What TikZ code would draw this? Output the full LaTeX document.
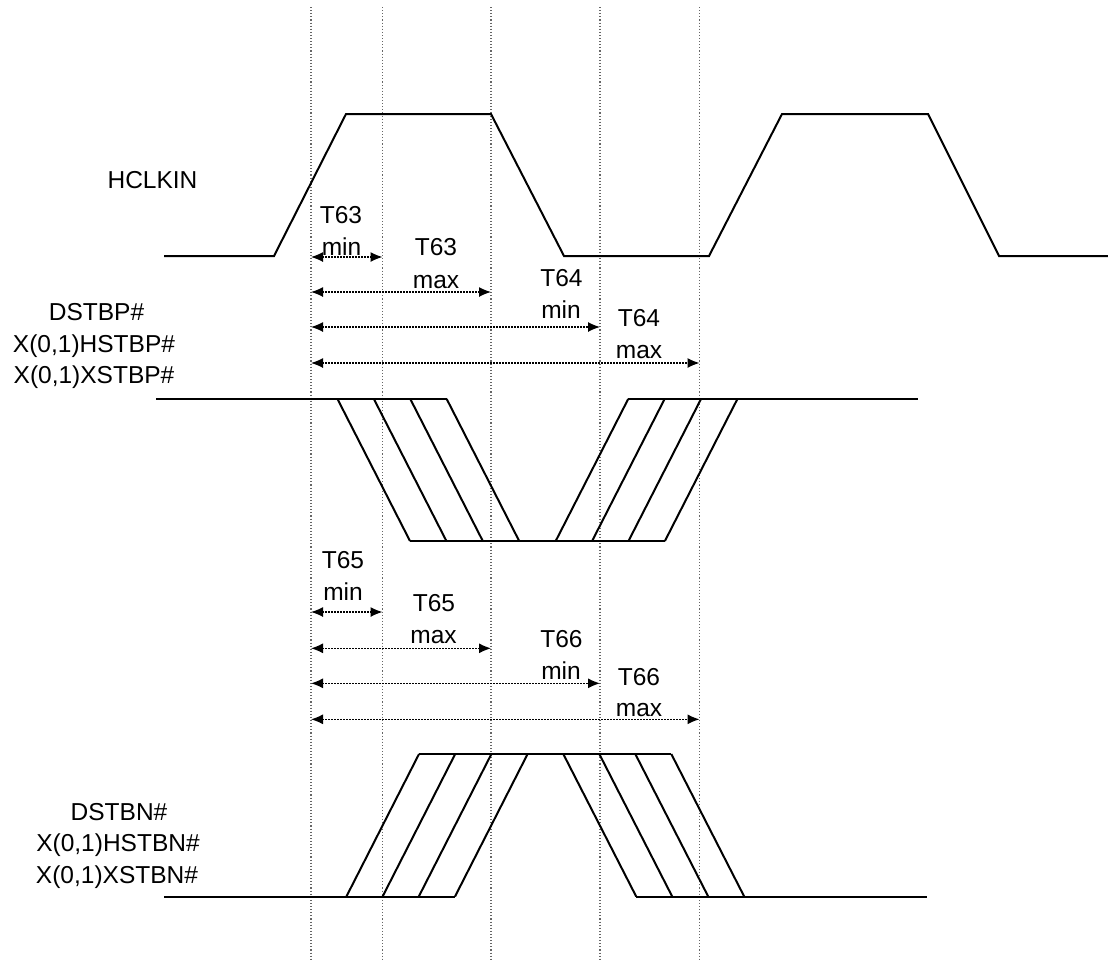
\documentclass[tikz,border=0pt]{standalone}
\usepackage{fontspec}
\setmainfont{Liberation Sans}
\usetikzlibrary{arrows.meta}
\begin{document}
\begin{tikzpicture}[x=0.5pt,y=-0.5pt]

		\tikzstyle{wave} = [line width=1pt, line join=miter]
		
		\tikzstyle{guide} = [black!60, line width=0.55pt, dash pattern=on 0.55pt off 1pt]
		
		\tikzstyle{span} = [{Latex[length=6pt,width=5pt]}-{Latex[length=6pt,width=5pt]}, line width=0.6pt, dash pattern=on 0.6pt off 0.9pt]
		
		\tikzstyle{spantext} = [anchor=base, inner sep=0pt, font=\fontsize{12.25pt}{14pt}\selectfont]
		
		\tikzstyle{signame} = [anchor=base, inner sep=0pt, font=\fontsize{12.25pt}{14pt}\selectfont]
		
		\useasboundingbox (0,0) rectangle (1108,966);
		
		% edge markers
		\foreach \n/\x in {1/311,2/382.5,3/491,4/600,5/699.5}
		{
			\coordinate (top\n) at (\x,7);
			\coordinate (bot\n) at (\x,960);
			\draw[guide] (top\n) -- (bot\n);
		}
		
		\coordinate (row1) at (0,257);
		\coordinate (row2) at (0,292);
		\coordinate (row3) at (0,327);
		\coordinate (row4) at (0,363);
		\coordinate (row5) at (0,612);
		\coordinate (row6) at (0,648.3);
		\coordinate (row7) at (0,683.3);
		\coordinate (row8) at (0,719.3);
		
		% signal names
		\node[signame] at (152.5,188) (hclkin) {HCLKIN};
		
		\node[signame] at (96.5,320.5) (dstbp) {DSTBP\#};
		\node[signame] at (94,352) (hstbp) {X(0,1)HSTBP\#};
		\node[signame] at (94,383.5) (xstbp) {X(0,1)XSTBP\#};
		
		\node[signame] at (119,820) (dstbn) {DSTBN\#};
		\node[signame] at (118,851.5) (hstbn) {X(0,1)HSTBN\#};
		\node[signame] at (117,883) (xstbn) {X(0,1)XSTBN\#};
		
		% HCLKIN
		\draw[wave] (164,256) -- (274,256) -- (346,114) -- (491,114) -- (564,256) -- (709,256) -- (782,114) -- (928,114) -- (999,256) -- (1108,256);
		
		% DSTBP#
		\draw[wave] (156,399) -- (446.6,399);
		\draw[wave] (410,541) -- (664.7,541);
		\draw[wave] (628.2,399) -- (918,399);
		\foreach \i in {0,...,3}
		{
			\draw[wave] ({337.5+36.4*\i},399) -- ({410+36.4*\i},541);
			\draw[wave] ({555.7+36.4*\i},541) -- ({628.2+36.4*\i},399);
		}
		
		% DSTBN#
		\draw[wave] (164,896.5) -- (455,896.5);
		\draw[wave] (419,754) -- (671.4,754);
		\draw[wave] (636.2,896.5) -- (927,896.5);
		\foreach \i in {0,...,3}
		{
			\draw[wave] ({346.4+36.2*\i},896.5) -- ({419+36.2*\i},754);
			\draw[wave] ({563.3+36*\i},754) -- ({636.2+36*\i},896.5);
		}
		
		% T63 / T64
		\node[spantext] at (341,223) (t63mina) {T63};
		\node[spantext] at (341.5,255) (t63minb) {min};
		\node[spantext] at (436,255) (t63maxa) {T63};
		\node[spantext] at (436,288) (t63maxb) {max};
		\node[spantext] at (561.5,286.7) (t64mina) {T64};
		\node[spantext] at (561,318.3) (t64minb) {min};
		\node[spantext] at (639,326.7) (t64maxa) {T64};
		\node[spantext] at (639,358.3) (t64maxb) {max};
		
		\draw[span] (top1 |- row1) -- (top2 |- row1);
		\draw[span] (top1 |- row2) -- (top3 |- row2);
		\draw[span] (top1 |- row3) -- (top4 |- row3);
		\draw[span] (top1 |- row4) -- (top5 |- row4);
		
		% T65 / T66
		\node[spantext] at (343,568.3) (t65mina) {T65};
		\node[spantext] at (343,600) (t65minb) {min};
		\node[spantext] at (434,611.7) (t65maxa) {T65};
		\node[spantext] at (433.5,643.3) (t65maxb) {max};
		\node[spantext] at (561.5,647.3) (t66mina) {T66};
		\node[spantext] at (561,679.3) (t66minb) {min};
		\node[spantext] at (639,685) (t66maxa) {T66};
		\node[spantext] at (639,716.7) (t66maxb) {max};
		
		\draw[span] (top1 |- row5) -- (top2 |- row5);
		\draw[span] (top1 |- row6) -- (top3 |- row6);
		\draw[span] (top1 |- row7) -- (top4 |- row7);
		\draw[span] (top1 |- row8) -- (top5 |- row8);
	\end{tikzpicture}
\end{document}
